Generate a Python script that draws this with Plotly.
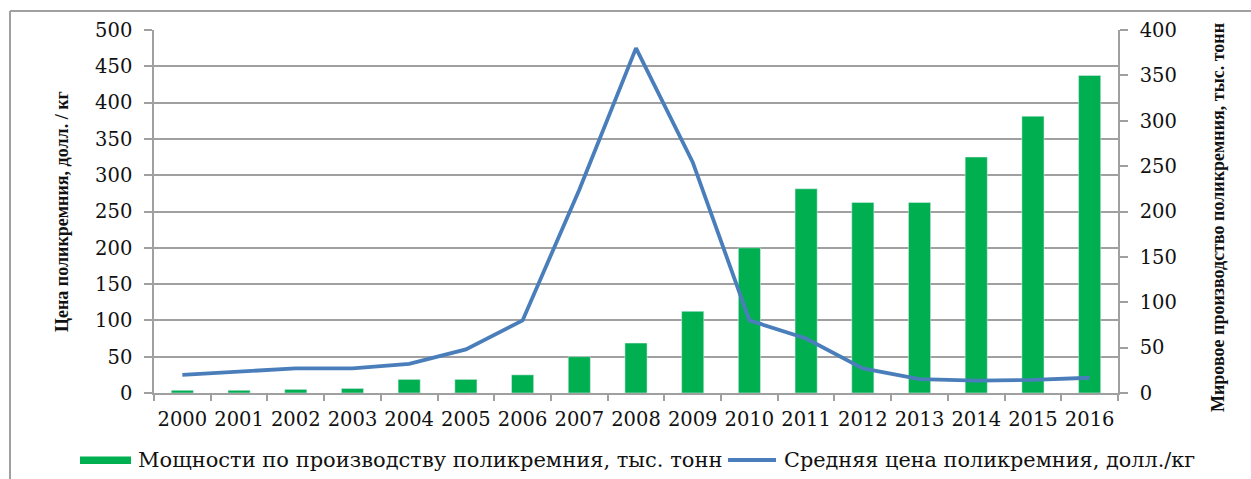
import plotly.graph_objects as go

years = [str(y) for y in range(2000, 2017)]
capacity = [3, 3, 4, 5, 15, 15, 20, 40, 55, 90, 160, 225, 210, 210, 260, 305, 350]
price = [25, 30, 34, 34, 40, 60, 100, 280, 475, 318, 100, 75, 34, 19, 17, 18, 21]

bar_name = "Мощности по производству поликремния, тыс. тонн"
line_name = "Средняя цена поликремния, долл./кг"
left_title = "Цена поликремния, долл. / кг"
right_title = "Мировое производство поликремния, тыс. тонн"

W, H = 1251, 479
L, R, T, B = 154, 133, 30, 86
PW, PH = W - L - R, H - T - B

def px(x):
    return (x - L) / PW

def py(y):
    return 1 - (y - T) / PH

GREEN = "#00b050"
BLUE = "#4a7ebb"
GRAY = "#a0a0a0"
SERIF = "DejaVu Serif"
TXT = "#111111"

fig = go.Figure()
fig.add_trace(go.Bar(x=years, y=capacity, name=bar_name, marker_color=GREEN,
                     yaxis="y", showlegend=False))
fig.add_trace(go.Scatter(x=years, y=price, name=line_name, mode="lines",
                         line=dict(color=BLUE, width=3.8), yaxis="y2", showlegend=False))

fig.update_layout(
    width=W, height=H,
    margin=dict(l=L, r=R, t=T, b=B),
    paper_bgcolor="white", plot_bgcolor="white",
    bargap=0.61,
    font=dict(family=SERIF, size=19, color=TXT),
    xaxis=dict(type="category", showline=True, linecolor=GRAY, linewidth=1.5,
               ticks="outside", tickson="boundaries", ticklen=6, tickcolor=GRAY,
               tickwidth=1.5, showgrid=False, tickangle=0, ticklabelstandoff=8,
               tickfont=dict(family=SERIF, size=19.5)),
    yaxis=dict(side="right", range=[0, 400], dtick=50, showgrid=False,
               showline=True, linecolor=GRAY, linewidth=1.5, ticks="outside",
               ticklen=8, tickcolor=GRAY, tickwidth=1.5, zeroline=False,
               tickfont=dict(family=SERIF, size=19.5), ticklabelstandoff=8),
    yaxis2=dict(side="left", overlaying="y", range=[0, 500], dtick=50,
                showgrid=True, gridcolor=GRAY, gridwidth=1.5,
                showline=True, linecolor=GRAY, linewidth=1.5, ticks="outside",
                ticklen=8, tickcolor=GRAY, tickwidth=1.5, zeroline=False,
                tickfont=dict(family=SERIF, size=19.5), ticklabelstandoff=8),
)

shapes = [
    # outer frame (left and top edges)
    dict(type="line", xref="paper", yref="paper", x0=px(10), x1=px(1260),
         y0=py(11), y1=py(11), line=dict(color=GRAY, width=2)),
    dict(type="line", xref="paper", yref="paper", x0=px(10), x1=px(10),
         y0=py(11), y1=py(490), line=dict(color=GRAY, width=2)),
    # legend symbols
    dict(type="rect", xref="paper", yref="paper", x0=px(80), x1=px(131),
         y0=py(464), y1=py(456.5), fillcolor=GREEN, line=dict(width=0)),
    dict(type="line", xref="paper", yref="paper", x0=px(728), x1=px(776),
         y0=py(460), y1=py(460), line=dict(color=BLUE, width=3.8)),
]

annotations = [
    dict(text=bar_name, xref="paper", yref="paper", x=px(136), y=py(460),
         xanchor="left", yanchor="middle", showarrow=False,
         font=dict(family=SERIF, size=21, color=TXT)),
    dict(text=line_name, xref="paper", yref="paper", x=px(782), y=py(460),
         xanchor="left", yanchor="middle", showarrow=False,
         font=dict(family=SERIF, size=20.8, color=TXT)),
    dict(text="<b>" + left_title + "</b>", xref="paper", yref="paper", x=px(62), y=py(212),
         xanchor="center", yanchor="middle", textangle=-90, showarrow=False,
         font=dict(family="Liberation Serif", size=18, color=TXT)),
    dict(text="<b>" + right_title + "</b>", xref="paper", yref="paper", x=px(1218), y=py(218),
         xanchor="center", yanchor="middle", textangle=-90, showarrow=False,
         font=dict(family="Liberation Serif", size=18, color=TXT)),
]

fig.update_layout(shapes=shapes, annotations=annotations)
fig.write_html("out.html")
